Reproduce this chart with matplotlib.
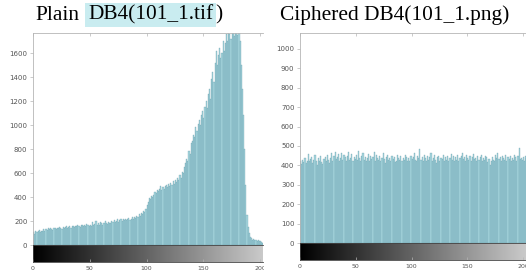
import numpy as np
import matplotlib
matplotlib.use("Agg")
import matplotlib.pyplot as plt
from matplotlib.patches import Rectangle

# histogram counts per grey level
plain_counts = [
    110, 95, 120, 105, 115, 125, 110, 120, 115, 130,
    120, 135, 125, 140, 130, 140, 135, 125, 140, 145,
    135, 145, 140, 150, 145, 135, 150, 145, 150, 155,
    145, 150, 160, 145, 155, 160, 150, 160, 155, 165,
    160, 150, 165, 170, 155, 165, 160, 175, 165, 155,
    170, 160, 190, 165, 175, 200, 170, 185, 165, 195,
    180, 170, 185, 200, 180, 175, 195, 185, 180, 200,
    190, 205, 195, 200, 215, 195, 210, 220, 200, 215,
    210, 220, 205, 215, 225, 210, 220, 230, 215, 235,
    225, 240, 235, 255, 245, 265, 260, 280, 275, 300,
    330, 360, 390, 380, 410, 400, 420, 440, 430, 460,
    450, 470, 490, 460, 480, 470, 490, 500, 480, 510,
    495, 520, 500, 530, 510, 540, 525, 555, 540, 580,
    560, 610, 600, 650, 680, 720, 700, 780, 760, 850,
    870, 920, 900, 980, 950, 1010, 1040, 1000, 1080, 1120,
    1060, 1150, 1200, 1140, 1260, 1300, 1220, 1380, 1440, 1360,
    1520, 1620, 1500, 1580, 1640, 1560, 1600, 1700, 1620, 1680,
    1760, 1700, 1800, 1760, 1720, 1820, 1790, 1740, 1800, 1780,
    1750, 1790, 1700, 1500, 1300, 1080, 800, 500, 250, 150,
    100, 70, 55, 45, 50, 40, 45, 35, 40, 30,
    35, 25, 20, 15, 10, 8, 5, 3, 2, 0,
] + [0] * 46

cipher_counts = [
    420, 405, 430, 415, 440, 410, 425, 460, 420, 435,
    445, 410, 430, 455, 420, 400, 440, 425, 450, 415,
    405, 435, 445, 420, 455, 430, 410, 440, 465, 425,
    450, 470, 435, 445, 460, 420, 440, 465, 430, 455,
    445, 425, 450, 470, 430, 440, 460, 420, 445, 435,
    455, 430, 475, 440, 420, 450, 465, 430, 445, 425,
    440, 460, 420, 450, 435, 445, 470, 425, 455, 440,
    430, 450, 420, 440, 465, 435, 410, 445, 455, 430,
    440, 420, 450, 435, 445, 415, 425, 455, 440, 430,
    450, 420, 440, 430, 455, 445, 425, 440, 420, 450,
    435, 445, 465, 430, 420, 450, 440, 485, 430, 445,
    425, 455, 440, 420, 450, 430, 445, 465, 425, 440,
    455, 430, 410, 445, 450, 420, 440, 435, 455, 425,
    445, 430, 450, 420, 440, 460, 430, 450, 425, 445,
    430, 455, 420, 440, 450, 465, 435, 445, 420, 455,
    440, 430, 450, 425, 445, 460, 435, 440, 420, 450,
    430, 445, 455, 420, 440, 430, 450, 445, 415, 435,
    400, 425, 445, 430, 420, 455, 440, 465, 435, 445,
    425, 450, 440, 430, 455, 420, 445, 435, 450, 425,
    440, 430, 455, 445, 420, 450, 490, 435, 440, 430,
    445, 425, 450, 440, 435, 455, 420, 445, 430, 440,
    450, 425, 440, 455, 430, 445, 420, 440, 450, 435,
    445, 430, 455, 420, 440, 450, 425, 445, 435, 440,
    430, 455, 445, 420, 450, 440, 430, 445, 455, 425,
    440, 450, 430, 445, 420, 440, 455, 435, 450, 430,
    440, 445, 425, 450, 430, 440,
]

plain_ticks = [0, 200, 400, 600, 800, 1000, 1200, 1400, 1600]
cipher_ticks = [0, 100, 200, 300, 400, 500, 600, 700, 800, 900, 1000]
level_ticks = [0, 50, 100, 150, 200]

W, H = 526, 279
BAR = "#a8d6df"
EDGE = "#5f97a4"
GRID = "#b5b5b5"
LBL = "#555555"


def px(x0, y0, x1, y1):
    return [x0 / W, 1 - y1 / H, (x1 - x0) / W, (y1 - y0) / H]


fig = plt.figure(figsize=(W / 100, H / 100), dpi=100)


def panel(x0, x1, ytop, yzero, ybar, xmax, ymax, counts, yticks):
    ax = fig.add_axes(px(x0, ytop, x1, yzero))
    levels = np.arange(len(counts))
    ax.bar(levels, counts, width=1.0, align="edge", color=BAR,
           edgecolor=EDGE, linewidth=0.2)
    ax.set_xlim(0, xmax)
    ax.set_ylim(0, ymax)
    ax.set_yticks(yticks)
    ax.tick_params(axis="y", direction="out", length=2, width=0.5,
                   colors=GRID, labelcolor=LBL, labelsize=5, pad=2)
    ax.tick_params(axis="x", top=True, bottom=False, direction="in",
                   length=2, width=0.5, colors=GRID,
                   labelbottom=False, labeltop=False)
    ax.set_xticks(level_ticks)
    for side in ["left", "top", "right", "bottom"]:
        ax.spines[side].set_color(GRID)
        ax.spines[side].set_linewidth(0.6)
    ax.spines["right"].set_visible(False)
    ax.spines["bottom"].set_visible(False)

    cb = fig.add_axes(px(x0, yzero, x1, ybar))
    grad = np.arange(256).reshape(1, -1)
    cb.imshow(grad, cmap="gray", vmin=0, vmax=255, aspect="auto",
              extent=[0, 256, 0, 1])
    cb.set_xlim(0, xmax)
    cb.set_ylim(0, 1)
    cb.set_yticks([])
    cb.set_xticks(level_ticks)
    cb.tick_params(axis="x", direction="in", length=2, width=0.5,
                   colors=GRID, labelcolor=LBL, labelsize=4.5, pad=3)
    for side in ["left", "top", "right", "bottom"]:
        cb.spines[side].set_color("#444444")
        cb.spines[side].set_linewidth(0.6)
    cb.spines["right"].set_visible(False)
    return ax, cb


panel(33, 263, 33, 245, 262, 230 / 1.135, 1767, plain_counts, plain_ticks)
panel(300, 526, 33, 243, 260, 226 / 1.115, 1082, cipher_counts, cipher_ticks)

# the left panel is cropped in the source image
fig.add_artist(Rectangle((263.5 / W, 0), 12 / W, 25 / H, transform=fig.transFigure,
                         facecolor="white", edgecolor="none", zorder=10))

serif = ["Liberation Serif", "DejaVu Serif"]
fs = 15.4
ty = 1 - 15 / H
fig.text(35 / W, ty, "Plain", family=serif, fontsize=fs, va="center", ha="left")
hl = fig.text(88 / W, ty, "DB4(101_1.tif", family=serif, fontsize=fs,
              va="center", ha="left",
              bbox=dict(facecolor="#c9ecf0", edgecolor="none", pad=2))
fig.canvas.draw()
ext = hl.get_window_extent()
fig.text(ext.x1 / W + 2 / W, ty, ")", family=serif, fontsize=fs,
         va="center", ha="left")
fig.text(280 / W, ty, "Ciphered DB4(101_1.png)", family=serif, fontsize=fs,
         va="center", ha="left")

fig.savefig("out.png", dpi=100)
